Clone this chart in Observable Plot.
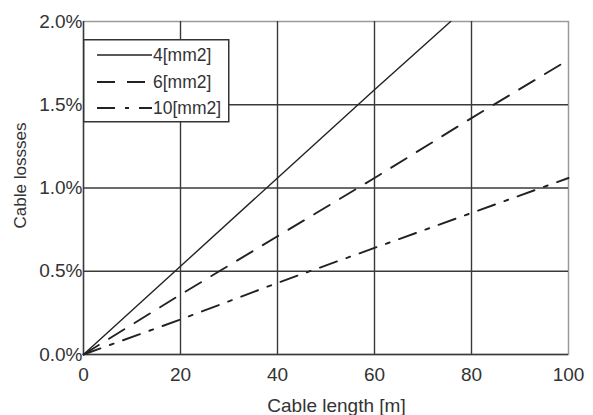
<!DOCTYPE html>
<html><head><meta charset="utf-8">
<script src="https://cdn.jsdelivr.net/npm/d3@7"></script>
<script src="https://cdn.jsdelivr.net/npm/@observablehq/plot@0.6"></script>
<style>
body{margin:0;background:#fff}
#wrap{position:relative;width:593px;height:415px}
#legend{position:absolute;left:83px;top:39px}
</style>
</head><body><div id="wrap"></div>
<script>
// Data
const seriesNames = ["4[mm2]", "6[mm2]", "10[mm2]"];
const len4 = [0, 20, 40, 60, 75.7];
const loss4 = [0, 0.53, 1.06, 1.59, 2.0];
const len6 = [0, 20, 40, 60, 80, 100];
const loss6 = [0, 0.36, 0.71, 1.06, 1.42, 1.77];
const len10 = [0, 20, 40, 60, 80, 100];
const loss10 = [0, 0.21, 0.43, 0.64, 0.85, 1.06];
const xTicks = [0, 20, 40, 60, 80, 100];
const yTicks = [0, 0.5, 1.0, 1.5, 2.0];
const xTitle = "Cable length [m]";
const yTitle = "Cable lossses";

const dashes = ["none", "18,12", "18,10,4,10"];
const toRows = (xs, ys, s) => xs.map((x, i) => ({x, y: ys[i], s}));
const rows = [toRows(len4, loss4, seriesNames[0]), toRows(len6, loss6, seriesNames[1]), toRows(len10, loss10, seriesNames[2])];

const font = "'Liberation Sans', Arial, sans-serif";
const ink = "#333";

const chart = Plot.plot({
  width: 593, height: 415,
  marginLeft: 83, marginRight: 25, marginTop: 21, marginBottom: 61,
  style: {fontFamily: font, fontSize: "19px", color: ink, background: "#fff", overflow: "visible"},
  x: {domain: [0, 100]},
  y: {domain: [0, 2]},
  marks: [
    Plot.frame({stroke: "#9a9a9a", strokeWidth: 1.5}),
    Plot.gridX(xTicks.slice(0, -1), {stroke: "#3a3a3a", strokeOpacity: 1, strokeWidth: 1.4}),
    Plot.gridY(yTicks.slice(0, -1), {stroke: "#3a3a3a", strokeOpacity: 1, strokeWidth: 1.4}),
    ...rows.map((r, i) => Plot.line(r, {x: "x", y: "y", stroke: "#222", strokeWidth: i === 0 ? 1.4 : 1.9, strokeDasharray: dashes[i]})),
    Plot.axisX({ticks: xTicks, tickSize: 0, tickPadding: 12.5, label: null, fontSize: 19, fill: ink}),
    Plot.axisY({ticks: yTicks, tickSize: 0, tickPadding: 1, label: null, fontSize: 19, fill: ink, tickFormat: d => d.toFixed(1) + "%"}),
    Plot.text([xTitle], {frameAnchor: "bottom", text: d => d, textAnchor: "middle", lineAnchor: "middle", dx: 10.5, dy: 51, fontSize: 19, fill: ink}),
    Plot.text([yTitle], {frameAnchor: "left", text: d => d, textAnchor: "middle", lineAnchor: "middle", rotate: -90, dx: -62.5, dy: -12.5, fontSize: 17, fill: ink})
  ]
});
const wrap = document.getElementById("wrap");
wrap.appendChild(chart);

// Legend
const lg = d3.select(wrap).append("svg").attr("id", "legend").attr("width", 148).attr("height", 85);
lg.append("rect").attr("x", 0.75).attr("y", 0.75).attr("width", 145).attr("height", 82)
  .attr("fill", "#fff").attr("stroke", "#333").attr("stroke-width", 1.5);
const rowY = [16, 43, 69];
seriesNames.forEach((name, i) => {
  lg.append("line").attr("x1", 14).attr("x2", 69).attr("y1", rowY[i]).attr("y2", rowY[i])
    .attr("stroke", "#222").attr("stroke-width", i === 0 ? 1.4 : 1.9)
    .attr("stroke-dasharray", dashes[i] === "none" ? null : dashes[i]);
  lg.append("text").attr("x", 70).attr("y", rowY[i]).attr("dy", "0.35em")
    .attr("font-family", font).attr("font-size", 17.5).attr("fill", ink).text(name);
});
</script></body></html>
